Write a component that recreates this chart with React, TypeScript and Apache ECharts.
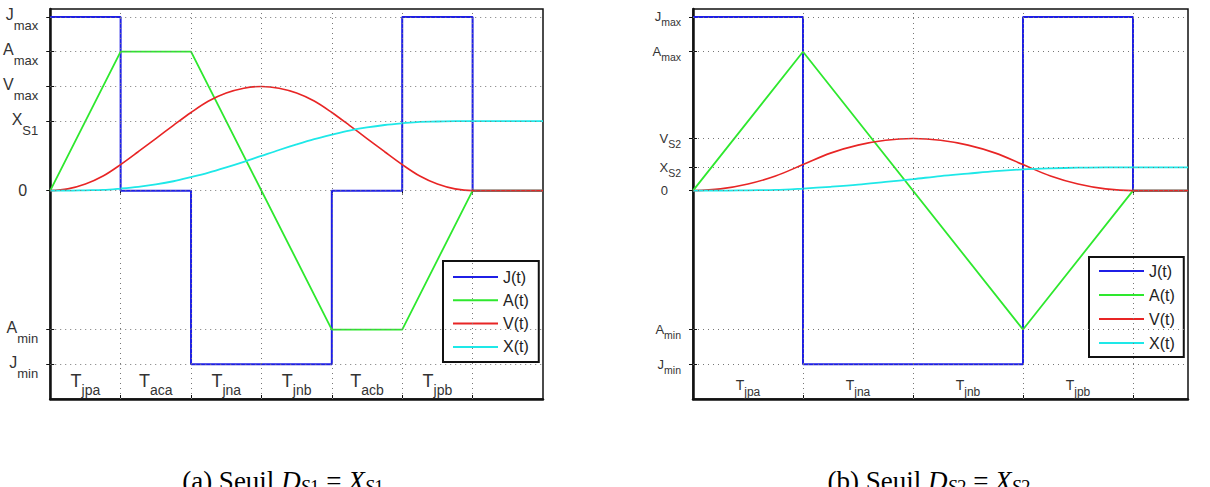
import React, { useEffect, useRef } from 'react';
import * as echarts from 'echarts';

const FONT = '"Liberation Sans", Arial, Helvetica, sans-serif';
const SERIF = '"Liberation Serif", "Times New Roman", serif';

const SERIES_NAMES = ['J(t)', 'A(t)', 'V(t)', 'X(t)'];
const COLORS = ['#1f1fe6', '#2ee82e', '#e82525', '#1ee8e8'];

// ---------- Panel (a) : Seuil D_S1 = X_S1 ----------
const leftJTimes = [0, 1, 2, 4, 5, 6, 7];
const leftJ = [5, 0, -5, 0, 5, 0, 0];
const leftATimes = [0, 1, 2, 4, 5, 6, 7];
const leftA = [0, 4, 4, -4, -4, 0, 0];
const leftCurveTimes = [0, 0.25, 0.5, 0.75, 1, 1.25, 1.5, 1.75, 2, 2.25, 2.5, 2.75, 3, 3.25, 3.5, 3.75, 4, 4.25, 4.5, 4.75, 5, 5.25, 5.5, 5.75, 6, 6.25, 6.5, 6.75, 7];
const leftV = [0, 0.05, 0.19, 0.42, 0.75, 1.12, 1.5, 1.88, 2.25, 2.58, 2.81, 2.95, 3, 2.95, 2.81, 2.58, 2.25, 1.88, 1.5, 1.12, 0.75, 0.42, 0.19, 0.05, 0, 0, 0, 0, 0];
const leftX = [0, 0, 0.01, 0.02, 0.06, 0.11, 0.18, 0.27, 0.39, 0.52, 0.67, 0.83, 1, 1.17, 1.33, 1.48, 1.61, 1.73, 1.82, 1.89, 1.94, 1.98, 1.99, 2, 2, 2, 2, 2, 2];
const leftYTicks = [-5, -4, 0, 2, 3, 4, 5];
const leftYMain = ['J', 'A', '0', 'X', 'V', 'A', 'J'];
const leftYSub = ['min', 'min', '', 'S1', 'max', 'max', 'max'];
const leftXGrid = [1, 2, 3, 4, 5, 6];
const leftXLabelPos = [0.5, 1.5, 2.5, 3.5, 4.5, 5.5];
const leftXLabelSub = ['jpa', 'aca', 'jna', 'jnb', 'acb', 'jpb'];

// ---------- Panel (b) : Seuil D_S2 = X_S2 ----------
const rightJTimes = [0, 1, 3, 4, 4.5];
const rightJ = [5, -5, 5, 0, 0];
const rightATimes = [0, 1, 3, 4, 4.5];
const rightA = [0, 4, -4, 0, 0];
const rightCurveTimes = [0, 0.25, 0.5, 0.75, 1, 1.25, 1.5, 1.75, 2, 2.25, 2.5, 2.75, 3, 3.25, 3.5, 3.75, 4, 4.25, 4.5];
const rightV = [0, 0.05, 0.19, 0.42, 0.75, 1.08, 1.31, 1.45, 1.5, 1.45, 1.31, 1.08, 0.75, 0.42, 0.19, 0.05, 0, 0, 0];
const rightX = [0, 0, 0.01, 0.02, 0.06, 0.11, 0.17, 0.25, 0.33, 0.42, 0.49, 0.56, 0.61, 0.64, 0.66, 0.67, 0.67, 0.67, 0.67];
const rightYTicks = [-5, -4, 0, 0.667, 1.5, 4, 5];
const rightYMain = ['J', 'A', '0', 'X', 'V', 'A', 'J'];
const rightYSub = ['min', 'min', '', 'S2', 'S2', 'max', 'max'];
const rightXGrid = [1, 2, 3, 4];
const rightXLabelPos = [0.5, 1.5, 2.5, 3.5];
const rightXLabelSub = ['jpa', 'jna', 'jnb', 'jpb'];

const Y_MIN = -6;
const Y_MAX = 5.23;

type Panel = {
  left: number; top: number; width: number; height: number; xMax: number;
  jT: number[]; j: number[]; aT: number[]; a: number[]; cT: number[]; v: number[]; x: number[];
  yTicks: number[]; yMain: string[]; ySub: string[];
  xGrid: number[]; xLabPos: number[]; xLabSub: string[];
  yMainSize: number; ySubSize: number; yMainPad: number[]; ySubPad: number[]; zeroPad: number;
  xMainSize: number; xSubSize: number; xMainPad: number[]; xSubPad: number[];
  legend: { left: number; top: number; gap: number; padding: number[] };
};

const panels: Panel[] = [
  {
    left: 48, top: 9, width: 495, height: 390, xMax: 7,
    jT: leftJTimes, j: leftJ, aT: leftATimes, a: leftA, cT: leftCurveTimes, v: leftV, x: leftX,
    yTicks: leftYTicks, yMain: leftYMain, ySub: leftYSub,
    xGrid: leftXGrid, xLabPos: leftXLabelPos, xLabSub: leftXLabelSub,
    yMainSize: 16, ySubSize: 13, yMainPad: [0, 0, 4, 0], ySubPad: [18, 0, 0, 0], zeroPad: 11,
    xMainSize: 18, xSubSize: 14, xMainPad: [0, 0, 8, 0], xSubPad: [10, 0, 0, 0],
    legend: { left: 443, top: 261, gap: 5.3, padding: [7, 10, 6, 10] },
  },
  {
    left: 693, top: 9, width: 495, height: 390, xMax: 4.5,
    jT: rightJTimes, j: rightJ, aT: rightATimes, a: rightA, cT: rightCurveTimes, v: rightV, x: rightX,
    yTicks: rightYTicks, yMain: rightYMain, ySub: rightYSub,
    xGrid: rightXGrid, xLabPos: rightXLabelPos, xLabSub: rightXLabelSub,
    yMainSize: 13, ySubSize: 10.5, yMainPad: [0, 0, 0, 0], ySubPad: [11, 0, 0, 0], zeroPad: 13,
    xMainSize: 14, xSubSize: 12, xMainPad: [0, 0, 6, 0], xSubPad: [8, 0, 0, 0],
    legend: { left: 1089, top: 257, gap: 6, padding: [5, 9, 5, 10] },
  },
];

function buildOption() {
  const grid: any[] = [];
  const xAxis: any[] = [];
  const yAxis: any[] = [];
  const series: any[] = [];
  const legend: any[] = [];

  panels.forEach((p, pi) => {
    grid.push({
      left: p.left, top: p.top, width: p.width, height: p.height,
      show: true, borderColor: '#111', borderWidth: 1.5, backgroundColor: '#fff',
    });
    const tickStyle = { show: true, inside: true, length: 4, lineStyle: { color: '#111', width: 1 } };
    xAxis.push({
      type: 'value', gridIndex: pi, position: 'bottom', min: 0, max: p.xMax,
      axisLine: { show: true, onZero: false, lineStyle: { color: '#111', width: 2.5 } },
      axisTick: { ...tickStyle, customValues: p.xGrid },
      splitLine: { show: false },
      axisLabel: {
        show: true, inside: true, margin: 1, customValues: p.xLabPos,
        formatter: (val: number) => {
          const i = p.xLabPos.findIndex((t) => Math.abs(t - val) < 1e-6);
          return i < 0 ? '' : `{m|T}{s|${p.xLabSub[i]}}`;
        },
        rich: {
          m: { fontFamily: FONT, fontSize: p.xMainSize, color: '#333', padding: p.xMainPad },
          s: { fontFamily: FONT, fontSize: p.xSubSize, color: '#333', padding: p.xSubPad },
        },
      },
    });
    xAxis.push({
      type: 'value', gridIndex: pi, position: 'top', min: 0, max: p.xMax,
      axisLine: { show: false },
      axisTick: { ...tickStyle, customValues: p.xGrid },
      splitLine: { show: false },
      axisLabel: { show: false },
    });
    yAxis.push({
      type: 'value', gridIndex: pi, position: 'left', min: Y_MIN, max: Y_MAX,
      axisLine: { show: true, onZero: false, lineStyle: { color: '#111', width: 2.5 } },
      axisTick: { ...tickStyle, customValues: p.yTicks },
      splitLine: { show: false },
      axisLabel: {
        show: true, margin: 12, customValues: p.yTicks,
        formatter: (val: number) => {
          const i = p.yTicks.findIndex((t) => Math.abs(t - val) < 1e-6);
          if (i < 0) return '';
          if (!p.ySub[i]) return `{z|${p.yMain[i]}}`;
          return `{m|${p.yMain[i]}}{s|${p.ySub[i]}}`;
        },
        rich: {
          z: { fontFamily: FONT, fontSize: p.yMainSize, color: '#333', padding: [0, p.zeroPad, 0, 0] },
          m: { fontFamily: FONT, fontSize: p.yMainSize, color: '#333', padding: p.yMainPad },
          s: { fontFamily: FONT, fontSize: p.ySubSize, color: '#333', padding: p.ySubPad },
        },
      },
    });
    yAxis.push({
      type: 'value', gridIndex: pi, position: 'right', min: Y_MIN, max: Y_MAX,
      axisLine: { show: false },
      axisTick: { ...tickStyle, customValues: p.yTicks },
      splitLine: { show: false },
      axisLabel: { show: false },
    });

    const xi = pi * 2;
    const yi = pi * 2;
    series.push({
      name: `grid${pi}`, type: 'line', xAxisIndex: xi, yAxisIndex: yi, z: 1,
      data: [[0, 0]], symbol: 'none', lineStyle: { width: 0, opacity: 0 }, silent: true,
      markLine: {
        silent: true, symbol: 'none', label: { show: false },
        lineStyle: { type: [1, 4], color: '#777', width: 1 },
        data: [
          ...p.yTicks.map((v) => ({ yAxis: v })),
          ...p.xGrid.map((v) => ({ xAxis: v })),
        ],
      },
    });
    const common = { type: 'line', xAxisIndex: xi, yAxisIndex: yi, symbol: 'none', showSymbol: false, z: 3, silent: true };
    series.push({
      ...common, name: SERIES_NAMES[0], step: 'end',
      data: p.jT.map((t, i) => [t, p.j[i]]),
      lineStyle: { color: COLORS[0], width: 2 }, itemStyle: { color: COLORS[0] },
    });
    series.push({
      ...common, name: SERIES_NAMES[1],
      data: p.aT.map((t, i) => [t, p.a[i]]),
      lineStyle: { color: COLORS[1], width: 1.8 }, itemStyle: { color: COLORS[1] },
    });
    series.push({
      ...common, name: SERIES_NAMES[2], smooth: 0.35,
      data: p.cT.map((t, i) => [t, p.v[i]]),
      lineStyle: { color: COLORS[2], width: 1.6 }, itemStyle: { color: COLORS[2] },
    });
    series.push({
      ...common, name: SERIES_NAMES[3], smooth: 0.35,
      data: p.cT.map((t, i) => [t, p.x[i]]),
      lineStyle: { color: COLORS[3], width: 1.8 }, itemStyle: { color: COLORS[3] },
    });

    legend.push({
      orient: 'vertical', left: p.legend.left, top: p.legend.top,
      data: SERIES_NAMES.map((n) => ({ name: n, icon: 'rect' })),
      itemWidth: 45, itemHeight: 2, itemGap: p.legend.gap,
      padding: p.legend.padding, borderColor: '#111', borderWidth: 2, backgroundColor: '#fff',
      selectedMode: false,
      textStyle: { fontFamily: FONT, fontSize: 16, color: '#222', lineHeight: 18 },
    });
  });

  const captionRich = {
    n: { fontFamily: SERIF, fontSize: 27, color: '#000' },
    i: { fontFamily: SERIF, fontSize: 27, fontStyle: 'italic', color: '#000' },
    si: { fontFamily: SERIF, fontSize: 19, fontStyle: 'italic', color: '#000', padding: [11, 0, 0, 0] },
    sn: { fontFamily: SERIF, fontSize: 19, color: '#000', padding: [11, 0, 0, 0] },
  };

  return {
    animation: false,
    backgroundColor: '#fff',
    grid, xAxis, yAxis, series, legend,
    graphic: [
      {
        type: 'text', x: 283, y: 481, silent: true,
        style: {
          text: '{n|(a) Seuil }{i|D}{si|S}{sn|1}{n| = }{i|X}{si|S}{sn|1}',
          align: 'center', verticalAlign: 'middle', rich: captionRich,
        },
      },
      {
        type: 'text', x: 929, y: 481, silent: true,
        style: {
          text: '{n|(b) Seuil }{i|D}{si|S}{sn|2}{n| = }{i|X}{si|S}{sn|2}',
          align: 'center', verticalAlign: 'middle', rich: captionRich,
        },
      },
    ],
  };
}

export default function App() {
  const ref = useRef<HTMLDivElement>(null);
  useEffect(() => {
    if (!ref.current) return;
    const chart = echarts.init(ref.current, undefined, { renderer: 'svg' });
    chart.setOption(buildOption() as any);
    return () => chart.dispose();
  }, []);
  return (
    <div
      ref={ref}
      style={{ position: 'fixed', left: 0, top: 0, width: 1210, height: 487, background: '#fff' }}
    />
  );
}
